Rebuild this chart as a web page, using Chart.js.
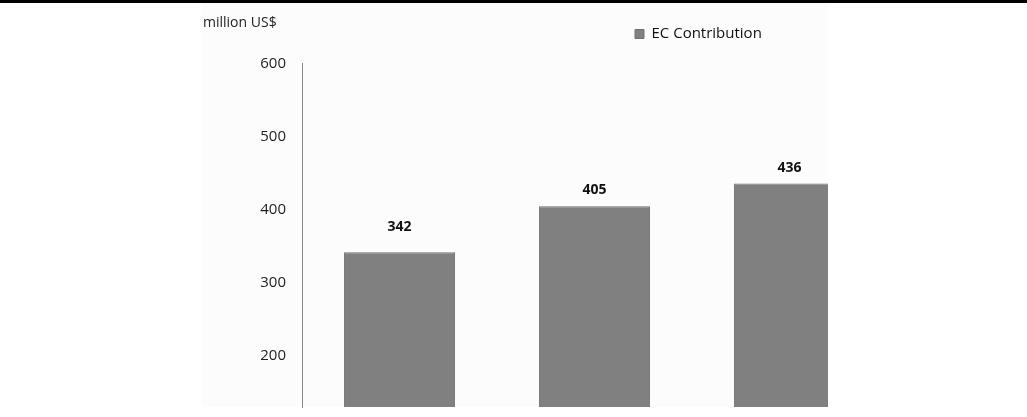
<!DOCTYPE html>
<html>
<head>
<meta charset="utf-8">
<script src="https://cdn.jsdelivr.net/npm/chart.js@4/dist/chart.umd.min.js"></script>
<style>
  html, body { margin: 0; padding: 0; background: #ffffff; }
  body { width: 1027px; height: 417px; position: relative; overflow: hidden; }
  #topband { position: absolute; left: 0; top: 0; width: 1027px; height: 3px; background: #000; }
  #panel { position: absolute; left: 202px; top: 3px; width: 626px; height: 404px; background: #fcfcfc; }
  #clip { position: absolute; left: 0; top: 0; width: 828px; height: 417px; overflow: hidden; }
  #wrap { position: absolute; left: 0; top: 0; width: 900px; height: 432px; }
</style>
</head>
<body>
<div id="panel"></div>
<div id="clip"><div id="wrap"><canvas id="chart"></canvas></div></div>
<div id="topband"></div>
<script>
// ---- data ----
const categories = ['Period 1', 'Period 2', 'Period 3'];
const seriesName = 'EC Contribution';
const ecContribution = [342, 405, 436];
const yTickValues = [200, 300, 400, 500, 600];
const yUnit = 'million US$';

// value labels above bars
const valueLabels = {
  id: 'valueLabels',
  afterDatasetsDraw(chart, args, opts) {
    const ctx = chart.ctx;
    const meta = chart.getDatasetMeta(0);
    const ds = chart.data.datasets[0].data;
    ctx.save();
    ctx.font = 'bold 14px "Open Sans"';
    ctx.fillStyle = '#111111';
    ctx.textAlign = 'center';
    ctx.textBaseline = 'middle';
    meta.data.forEach((bar, i) => {
      ctx.fillText(String(ds[i]), bar.x, bar.y - opts.offsets[i]);
    });
    ctx.restore();
  }
};

// place the legend where the original has it
const placeLegend = {
  id: 'placeLegend',
  afterLayout(chart, args, opts) {
    const lg = chart.legend;
    if (!lg) return;
    const w = lg.right - lg.left;
    const h = lg.bottom - lg.top;
    lg.left = opts.x; lg.right = opts.x + w;
    lg.top = opts.y; lg.bottom = opts.y + h;
  }
};

new Chart(document.getElementById('chart'), {
  type: 'bar',
  data: {
    labels: categories,
    datasets: [{
      label: seriesName,
      data: ecContribution,
      backgroundColor: '#808080',
      borderColor: '#707070',
      borderWidth: 1,
      categoryPercentage: 1.0,
      barPercentage: 0.57
    }]
  },
  plugins: [valueLabels, placeLegend],
  options: {
    responsive: true,
    maintainAspectRatio: false,
    animation: false,
    layout: { padding: { left: 203, right: 13, top: 0, bottom: 10 } },
    plugins: {
      title: {
        display: true,
        text: yUnit,
        align: 'start',
        color: '#222222',
        font: { family: '"Open Sans"', size: 14, weight: 'normal' },
        padding: { top: 15, bottom: 3 }
      },
      legend: {
        display: true,
        position: 'top',
        align: 'start',
        labels: {
          boxWidth: 9,
          boxHeight: 9,
          padding: 4,
          color: '#111111',
          font: { family: '"Open Sans"', size: 15 }
        }
      },
      placeLegend: { x: 631, y: 22.5 },
      valueLabels: { offsets: [25, 16, 16] },
      tooltip: { enabled: false }
    },
    scales: {
      x: { display: false },
      y: {
        min: 130,
        max: 600,
        afterFit(scale) { scale.width = 99; },
        afterBuildTicks(scale) { scale.ticks = yTickValues.map(v => ({ value: v })); },
        grid: { display: false, drawTicks: false, tickLength: 0 },
        border: { display: true, color: '#888888', width: 1 },
        ticks: {
          padding: 16,
          color: '#1e1e1e',
          font: { family: '"Open Sans"', size: 15 }
        }
      }
    }
  }
});
</script>
</body>
</html>
